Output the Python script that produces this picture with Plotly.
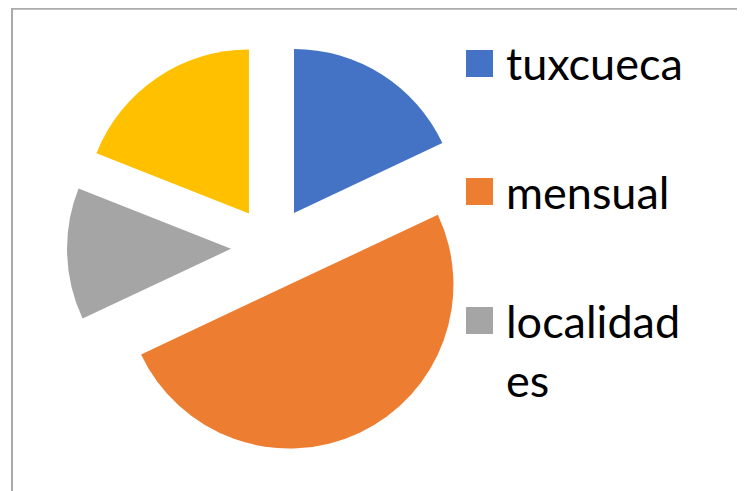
import plotly.graph_objects as go

# Data
categories = ["tuxcueca", "mensual", "localidades", "otros"]
values = [18, 50, 13, 19]
colors = ["#4472C4", "#ED7D31", "#A5A5A5", "#FFC000"]
legend_text = ["tuxcueca", "mensual", "localidad<br>es"]

W, H = 745, 491
OFF = 8  # page body margin


def px(x):
    return (x - OFF) / W


def py(y):
    return 1 - (y - OFF) / H


fig = go.Figure()
fig.add_trace(go.Pie(
    labels=categories,
    values=values,
    sort=False,
    direction="clockwise",
    rotation=0,
    pull=[0.25] * len(values),
    marker=dict(colors=colors, line=dict(width=0)),
    textinfo="none",
    hoverinfo="label+value",
    showlegend=False,
    domain=dict(x=[px(67), px(477)], y=[py(452.5), py(42.5)]),
))

shapes = [
    dict(type="rect", xref="paper", yref="paper",
         x0=px(12), x1=px(739.5), y0=-0.05, y1=py(8.75),
         line=dict(color="#ABABAB", width=2), fillcolor="rgba(0,0,0,0)")
]
annotations = []
sq_tops = [50, 178, 307]
for i, txt in enumerate(legend_text):
    top = sq_tops[i]
    shapes.append(dict(type="rect", xref="paper", yref="paper",
                       x0=px(466), x1=px(493), y0=py(top + 27), y1=py(top),
                       line=dict(width=0), fillcolor=colors[i]))
    annotations.append(dict(
        text=txt, xref="paper", yref="paper", x=px(504), y=py(top + 13.5),
        xanchor="left", yanchor="middle" if "<br>" not in txt else "top",
        showarrow=False, align="left",
        font=dict(family="Lato, Carlito, Calibri, sans-serif", size=45, color="#000000"),
    ))
# multi-line entry: anchor at top
annotations[2]["y"] = py(307 - 15)

fig.update_layout(
    width=W, height=H,
    margin=dict(l=0, r=0, t=0, b=0),
    paper_bgcolor="white",
    plot_bgcolor="white",
    shapes=shapes,
    annotations=annotations,
)

fig.write_html("out.html")
